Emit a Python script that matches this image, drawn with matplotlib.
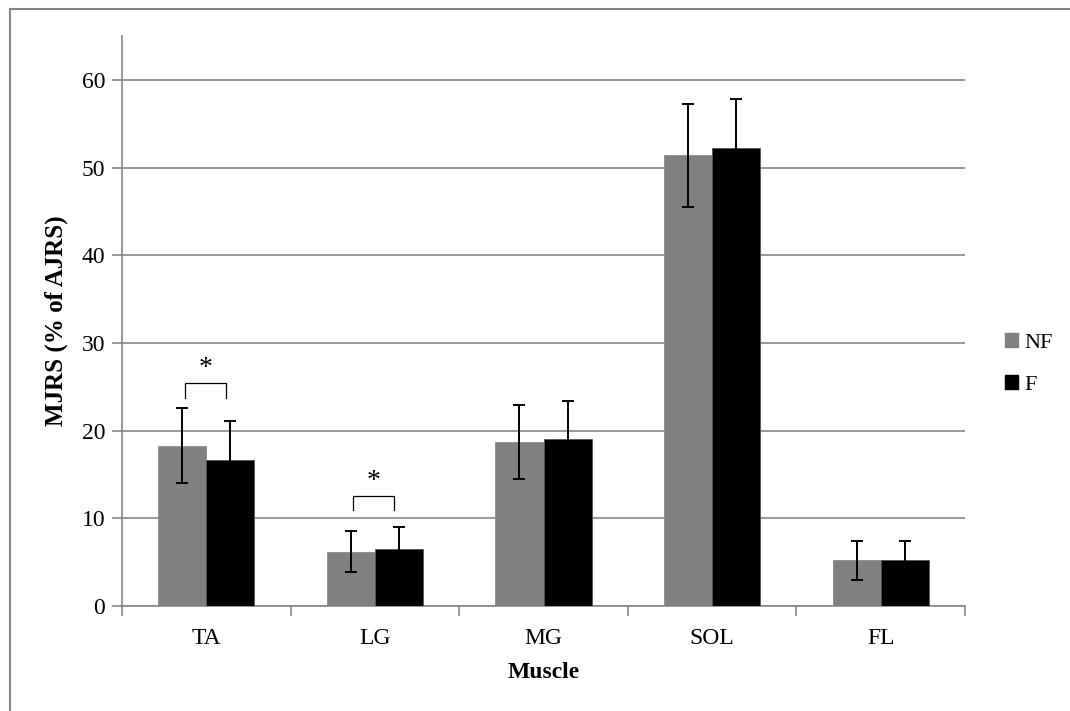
import numpy as np
import matplotlib.pyplot as plt
from matplotlib.lines import Line2D

muscles = ["TA", "LG", "MG", "SOL", "FL"]
nf_mean = [18.3, 6.2, 18.7, 51.4, 5.2]
nf_err = [4.25, 2.3, 4.2, 5.9, 2.2]
f_mean = [16.7, 6.5, 19.0, 52.2, 5.2]
f_err = [4.4, 2.55, 4.35, 5.6, 2.2]

# significance markers: (category index, bracket top, leg bottom)
sig = [(0, 25.4, 23.7), (1, 12.5, 10.9)]

plt.rcParams["font.family"] = ["Liberation Serif", "DejaVu Serif"]
grey = "#868686"

fig = plt.figure(figsize=(10.7, 7.11), dpi=100)
ax = fig.add_axes([122 / 1070, 105 / 711, 843 / 1070, 570 / 711])

x = np.arange(len(muscles))
w = 0.285
ax.bar(x - w / 2, nf_mean, w, color="#808080", edgecolor="#8c8c8c", linewidth=0.6, zorder=3)
ax.bar(x + w / 2, f_mean, w, color="black", edgecolor="#555555", linewidth=0.6, zorder=3)
ax.errorbar(x - w / 2, nf_mean, yerr=nf_err, fmt="none", ecolor="black",
            elinewidth=1.4, capsize=4, capthick=1.4, zorder=4)
ax.errorbar(x + w / 2, f_mean, yerr=f_err, fmt="none", ecolor="black",
            elinewidth=1.4, capsize=4, capthick=1.4, zorder=4)

for i, top, bot in sig:
    x0, x1 = i - 0.128, i + 0.115
    ax.plot([x0, x0, x1, x1], [bot, top, top, bot], color="black", lw=0.9, zorder=5)
    ax.text((x0 + x1) / 2, top + 0.3, "*", ha="center", va="bottom", fontsize=20, zorder=5)

ax.set_xlim(-0.5, len(muscles) - 0.5)
ax.set_ylim(0, 65)
ax.set_yticks(range(0, 61, 10))
ax.set_xticks(x)
ax.set_xticklabels(muscles)
ax.set_xticks(np.arange(-0.5, len(muscles), 1), minor=True)
ax.tick_params(axis="x", which="major", length=0, pad=16, labelsize=17)
ax.tick_params(axis="x", which="minor", length=7, color=grey, width=1.2)
ax.tick_params(axis="y", length=7, color=grey, width=1.2, labelsize=17, pad=5)
ax.grid(axis="y", color=grey, linewidth=1.2, zorder=0)
for s in ["top", "right"]:
    ax.spines[s].set_visible(False)
for s in ["left", "bottom"]:
    ax.spines[s].set_color(grey)
    ax.spines[s].set_linewidth(1.2)

ax.set_xlabel("Muscle", fontsize=17, fontweight="bold", labelpad=9)
ax.set_ylabel("MJRS (% of AJRS)", fontsize=18, fontweight="bold", labelpad=10)

handles = [plt.Rectangle((0, 0), 1, 1, color="#808080"),
           plt.Rectangle((0, 0), 1, 1, color="black")]
fig.legend(handles, ["NF", "F"], loc="center left", bbox_to_anchor=(994 / 1070, 1 - 364 / 711),
           frameon=False, fontsize=16, handlelength=0.6, handleheight=0.6,
           handletextpad=0.25, labelspacing=1.0, borderpad=0)

# outer chart border (only top and left edges visible)
fig.add_artist(Line2D([9.5 / 1070, 1], [1 - 8.5 / 711] * 2, color=grey, lw=1.5, transform=fig.transFigure))
fig.add_artist(Line2D([9.5 / 1070] * 2, [0, 1 - 8.5 / 711], color=grey, lw=1.5, transform=fig.transFigure))

fig.savefig("out.png", dpi=100)
